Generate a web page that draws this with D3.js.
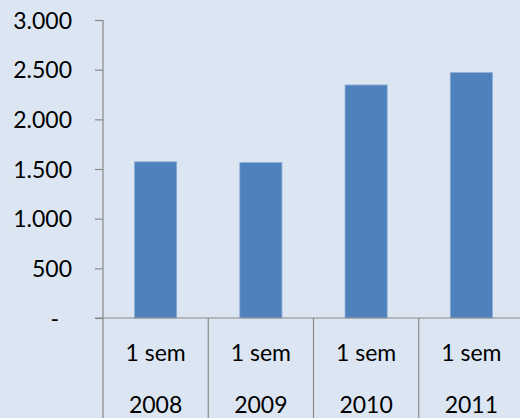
<!DOCTYPE html>
<html>
<head>
<meta charset="utf-8">
<script src="https://d3js.org/d3.v7.min.js"></script>
<style>
  html, body { margin: 0; padding: 0; background: #dce6f2; }
  svg text { font-family: Lato, "Open Sans", sans-serif; font-size: 23px; fill: #000; }
</style>
</head>
<body>
<svg id="chart" width="520" height="418"></svg>
<script>
// chart data
var semesters = ["1 sem", "1 sem", "1 sem", "1 sem"];
var years = ["2008", "2009", "2010", "2011"];
var values = [1572, 1565, 2346, 2470];
var tickValues = [0, 500, 1000, 1500, 2000, 2500, 3000];
var tickLabels = ["-", "500", "1.000", "1.500", "2.000", "2.500", "3.000"];

var plotLeft = 103, plotRight = 524, plotTop = 20, plotBase = 318, plotBottom = 418;

var svg = d3.select("#chart");

svg.append("rect")
    .attr("width", 520).attr("height", 418)
    .attr("fill", "#dce6f2");

var y = d3.scaleLinear().domain([0, 3000]).range([plotBase, plotTop]);

var cats = d3.scaleBand().domain(years).range([plotLeft, plotRight]);
var x = d3.scaleBand().domain(years).range([plotLeft, plotRight])
    .paddingInner(0.6).paddingOuter(0.3);

// bars
svg.selectAll(".bar")
    .data(values)
    .enter().append("rect")
    .attr("class", "bar")
    .attr("x", function(d, i) { return x(years[i]); })
    .attr("width", x.bandwidth())
    .attr("y", function(d) { return y(d); })
    .attr("height", function(d) { return plotBase - y(d); })
    .attr("fill", "#4f81bd")
    .attr("stroke", "#8aaad6")
    .attr("stroke-width", 0.8);

// y axis
var yAxis = d3.axisLeft(y)
    .tickValues(tickValues)
    .tickSize(8)
    .tickPadding(0)
    .tickFormat(function(d, i) { return tickLabels[i]; });

var ya = svg.append("g")
    .attr("transform", "translate(" + plotLeft + ",0)")
    .call(yAxis);
ya.select(".domain").remove();
ya.selectAll(".tick line").attr("stroke", "#898989").attr("stroke-width", 1.2);
ya.selectAll(".tick text")
    .attr("font-family", null).attr("font-size", null)
    .attr("x", function(d) { return d === 0 ? -44 : -31; })
    .attr("dy", "0.35em");

svg.append("line")
    .attr("x1", plotLeft).attr("x2", plotLeft)
    .attr("y1", plotTop).attr("y2", plotBase)
    .attr("stroke", "#898989").attr("stroke-width", 1.2);

// x axis baseline
svg.append("line")
    .attr("x1", plotLeft - 8).attr("x2", plotRight)
    .attr("y1", plotBase).attr("y2", plotBase)
    .attr("stroke", "#898989").attr("stroke-width", 1.2);

// category separators
var edges = years.map(function(d) { return cats(d); }).concat([plotRight]);
svg.selectAll(".sep")
    .data(edges)
    .enter().append("line")
    .attr("class", "sep")
    .attr("x1", function(d) { return d; }).attr("x2", function(d) { return d; })
    .attr("y1", plotBase).attr("y2", plotBottom)
    .attr("stroke", "#898989").attr("stroke-width", 1.2);

// category labels
var lab = svg.selectAll(".cat")
    .data(years)
    .enter().append("text")
    .attr("class", "cat")
    .attr("text-anchor", "middle");
lab.append("tspan")
    .attr("x", function(d) { return cats(d) + cats.bandwidth() / 2; })
    .attr("y", 361)
    .text(function(d, i) { return semesters[i]; });
lab.append("tspan")
    .attr("x", function(d) { return cats(d) + cats.bandwidth() / 2; })
    .attr("y", 413)
    .text(function(d) { return d; });
</script>
</body>
</html>
